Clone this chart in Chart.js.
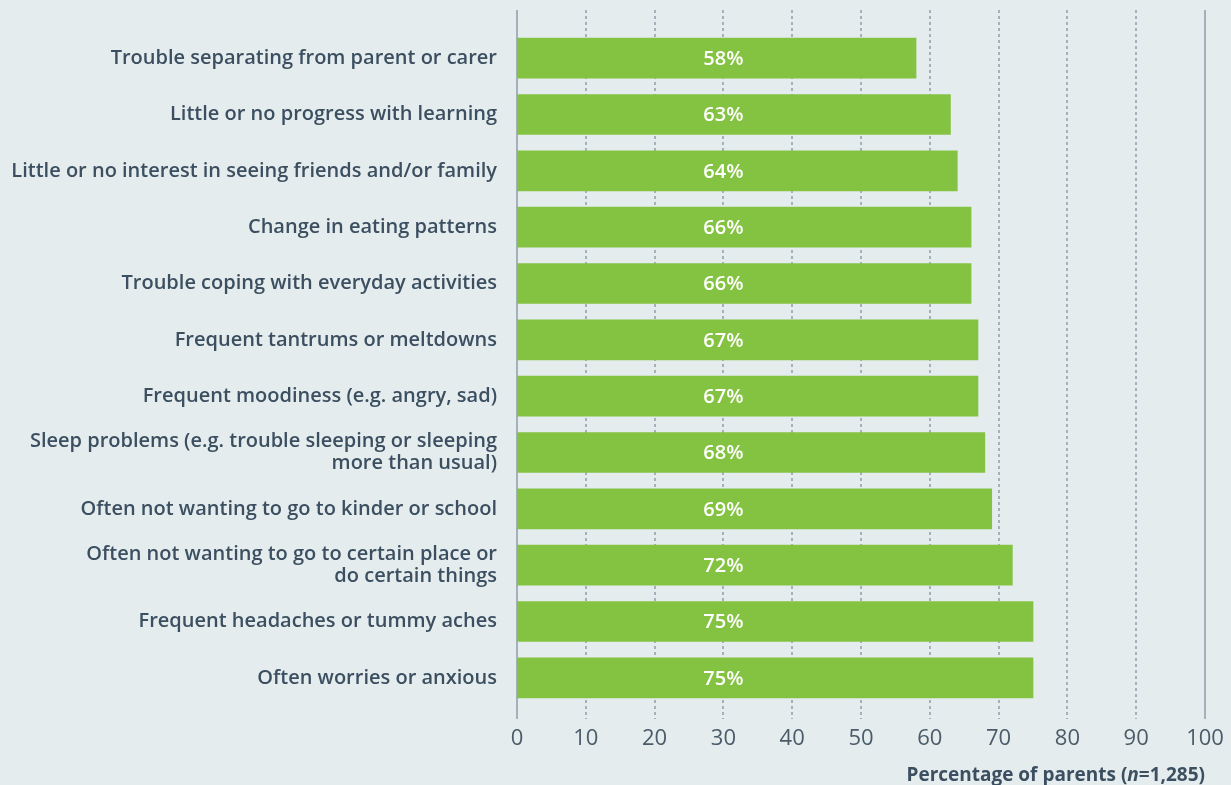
<!DOCTYPE html>
<html>
<head>
<meta charset="utf-8">
<script src="https://cdn.jsdelivr.net/npm/chart.js@4.4.1/dist/chart.umd.min.js"></script>
<style>
  html, body { margin: 0; padding: 0; background: #e5ecee; }
  #wrap { position: relative; width: 1231px; height: 785px; }
  #xTitle {
    position: absolute; right: 26px; top: 761px;
    font: 700 19px "Open Sans", sans-serif; color: #3b4f60;
  }
</style>
</head>
<body>
<div id="wrap">
  <canvas id="chart" width="1231" height="785"></canvas>
  <div id="xTitle">Percentage of parents (<i>n</i>=1,285)</div>
</div>
<script>
// Datos
const categorias = [
  'Trouble separating from parent or carer',
  'Little or no progress with learning',
  'Little or no interest in seeing friends and/or family',
  'Change in eating patterns',
  'Trouble coping with everyday activities',
  'Frequent tantrums or meltdowns',
  'Frequent moodiness (e.g. angry, sad)',
  ['Sleep problems (e.g. trouble sleeping or sleeping', 'more than usual)'],
  'Often not wanting to go to kinder or school',
  ['Often not wanting to go to certain place or', 'do certain things'],
  'Frequent headaches or tummy aches',
  'Often worries or anxious'
];
const porcentajes = [58, 63, 64, 66, 66, 67, 67, 68, 69, 72, 75, 75];
const ticksX = [0, 10, 20, 30, 40, 50, 60, 70, 80, 90, 100];

const colorTexto = '#3b4f60';
const fuente = '"Open Sans", sans-serif';

// Lineas de rejilla punteadas que sobresalen del area del grafico
const rejilla = {
  id: 'rejilla',
  beforeDatasetsDraw(chart) {
    const { ctx, chartArea, scales: { x } } = chart;
    ctx.save();
    ticksX.forEach(v => {
      const px = Math.round(x.getPixelForValue(v));
      const solida = v === ticksX[0] || v === ticksX[ticksX.length - 1];
      ctx.beginPath();
      ctx.lineWidth = 2;
      ctx.strokeStyle = '#a3b1bb';
      ctx.setLineDash(solida ? [] : [3, 3]);
      ctx.moveTo(px, chartArea.top - 20);
      ctx.lineTo(px, chartArea.bottom + 13);
      ctx.stroke();
    });
    ctx.restore();
  }
};

// Etiquetas de porcentaje dentro de las barras
const etiquetas = {
  id: 'etiquetas',
  afterDatasetsDraw(chart) {
    const { ctx, scales: { x } } = chart;
    const meta = chart.getDatasetMeta(0);
    ctx.save();
    ctx.fillStyle = '#ffffff';
    ctx.font = '600 20px ' + fuente;
    ctx.textAlign = 'center';
    ctx.textBaseline = 'middle';
    meta.data.forEach((bar, i) => {
      ctx.fillText(porcentajes[i] + '%', x.getPixelForValue(30), bar.y + 1);
    });
    ctx.restore();
  }
};

new Chart(document.getElementById('chart'), {
  type: 'bar',
  data: {
    labels: categorias,
    datasets: [{
      data: porcentajes,
      backgroundColor: '#84c341',
      barThickness: 40
    }]
  },
  options: {
    indexAxis: 'y',
    responsive: false,
    animation: false,
    layout: { padding: { top: 30, right: 26, bottom: 27, left: 0 } },
    plugins: { legend: { display: false }, tooltip: { enabled: false } },
    scales: {
      x: {
        min: 0, max: 100,
        afterFit(s) { s.height = 52; s.paddingRight = 0; s.paddingLeft = 0; },
        afterBuildTicks(s) { s.ticks = ticksX.map(v => ({ value: v })); },
        grid: { display: false },
        border: { display: false },
        ticks: { color: '#4a5b6a', padding: 12, font: { family: fuente, size: 22 } }
      },
      y: {
        afterFit(s) { s.width = 517; },
        grid: { display: false },
        border: { display: false },
        ticks: {
          color: colorTexto, padding: 12,
          font: { family: fuente, size: 20, weight: '600', lineHeight: 1.1 }
        }
      }
    }
  },
  plugins: [rejilla, etiquetas]
});
</script>
</body>
</html>
